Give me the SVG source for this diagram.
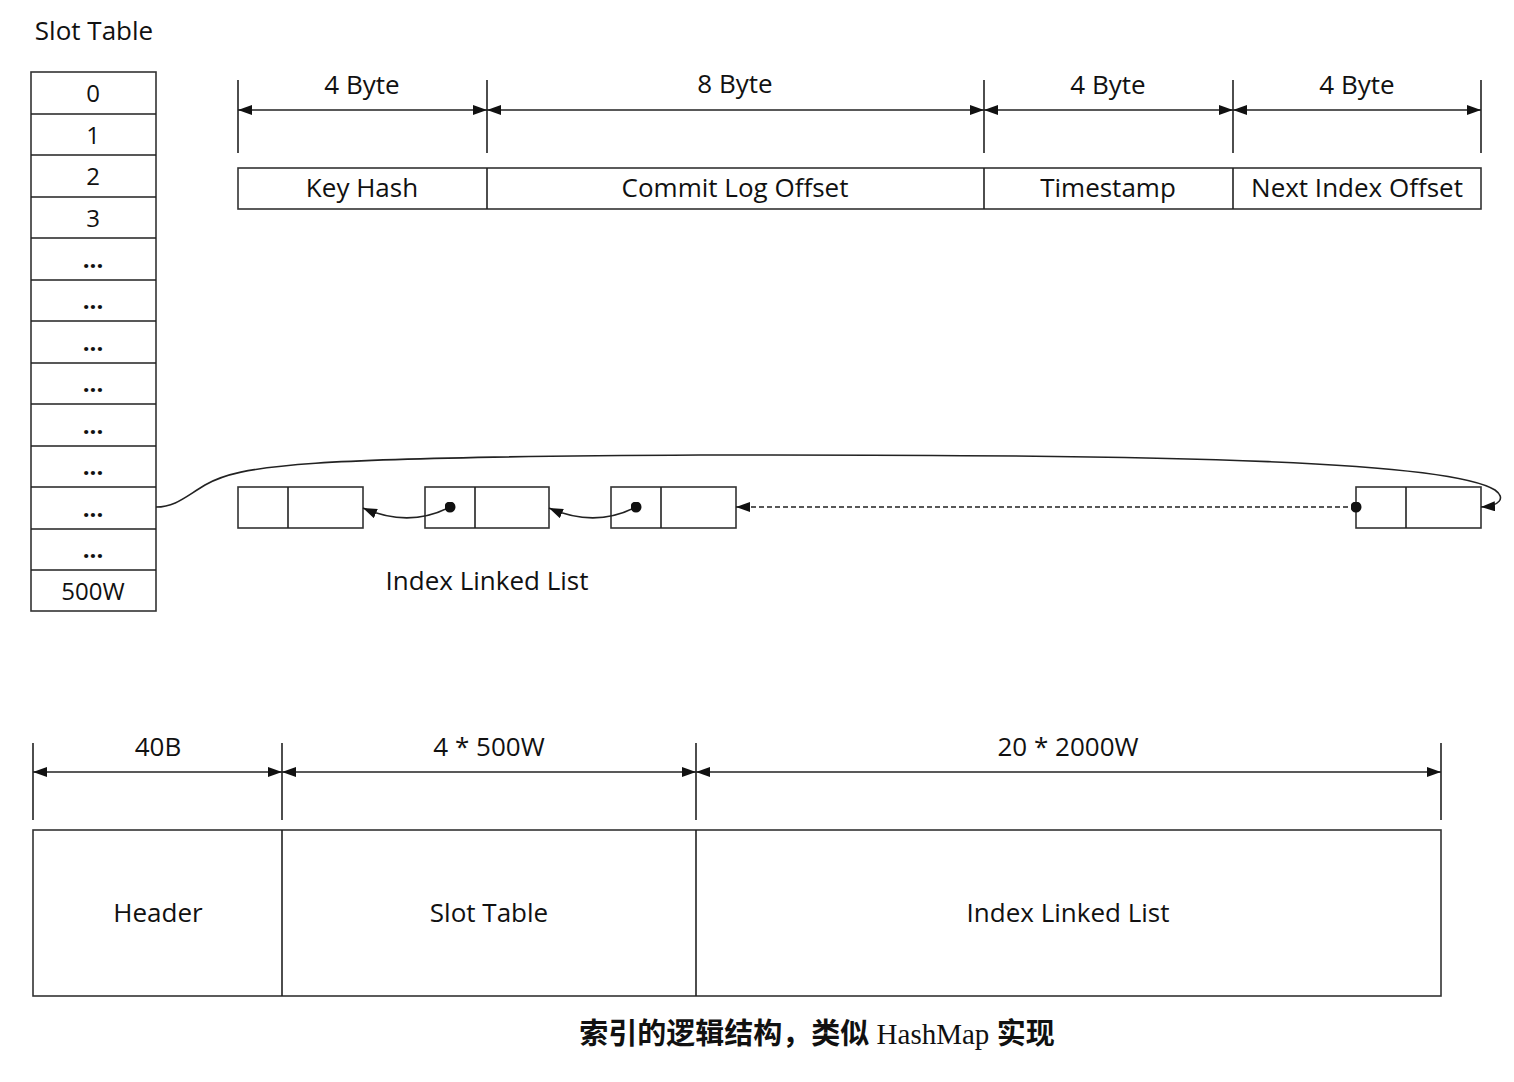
<svg xmlns="http://www.w3.org/2000/svg" width="1514" height="1082" viewBox="0 0 1514 1082">
<style>
.t{font-family:"Open Sans","Noto Sans",sans-serif;font-size:26px;fill:#111;text-anchor:middle}
.s{font-family:"Open Sans","Noto Sans",sans-serif;font-size:24px;fill:#111;text-anchor:middle}
.d{font-weight:bold}
.b{fill:#fff;stroke:#333;stroke-width:1.6}
.l{fill:none;stroke:#222;stroke-width:1.6}
.cap{font-family:"Liberation Serif","Noto Sans CJK SC",serif;font-size:29px;font-weight:600;fill:#111;text-anchor:middle}
</style>
<defs>
<marker id="ah" viewBox="0 0 14 10" refX="14" refY="5" markerWidth="14" markerHeight="10" markerUnits="userSpaceOnUse" orient="auto-start-reverse">
<path d="M0,0 L14,5 L0,10 z" fill="#111"/>
</marker>
<marker id="dot" viewBox="0 0 10 10" refX="5" refY="5" markerWidth="11" markerHeight="11" markerUnits="userSpaceOnUse">
<circle cx="5" cy="5" r="5" fill="#111"/>
</marker>
</defs>
<rect width="1514" height="1082" fill="#fff"/>
<text x="94" y="40" class="t">Slot Table</text>
<g id="slot-table">
<rect x="31" y="72" width="125" height="539" class="b"/>
<path class="l" d="M31,114H156M31,155H156M31,197H156M31,238H156M31,280H156M31,321H156M31,363H156M31,404H156M31,446H156M31,487H156M31,529H156M31,570H156"/>
<text x="93" y="102" class="s">0</text>
<text x="93" y="144" class="s">1</text>
<text x="93" y="185" class="s">2</text>
<text x="93" y="227" class="s">3</text>
<text x="93" y="268" class="s d">...</text>
<text x="93" y="309" class="s d">...</text>
<text x="93" y="351" class="s d">...</text>
<text x="93" y="392" class="s d">...</text>
<text x="93" y="434" class="s d">...</text>
<text x="93" y="475" class="s d">...</text>
<text x="93" y="517" class="s d">...</text>
<text x="93" y="558" class="s d">...</text>
<text x="93" y="600" class="s">500W</text>
</g>
<g id="record">
<rect x="238" y="168" width="1243" height="41" class="b"/>
<path class="l" d="M487,168V209M984,168V209M1233,168V209"/>
<text x="362" y="197" class="t">Key Hash</text>
<text x="735" y="197" class="t">Commit Log Offset</text>
<text x="1108" y="197" class="t">Timestamp</text>
<text x="1357" y="197" class="t">Next Index Offset</text>
</g>
<g id="record-dims">
<path class="l" d="M238,80V153M487,80V153M984,80V153M1233,80V153M1481,80V153"/>
<text x="362" y="94" class="t">4 Byte</text>
<text x="735" y="93" class="t">8 Byte</text>
<text x="1108" y="94" class="t">4 Byte</text>
<text x="1357" y="94" class="t">4 Byte</text>
</g>
<g id="node1"><rect x="238" y="487" width="125" height="41" class="b"/><path class="l" d="M288,487V528"/></g>
<g id="node2"><rect x="425" y="487" width="124" height="41" class="b"/><path class="l" d="M475,487V528"/></g>
<g id="node3"><rect x="611" y="487" width="125" height="41" class="b"/><path class="l" d="M661,487V528"/></g>
<g id="node4"><rect x="1356" y="487" width="125" height="41" class="b"/><path class="l" d="M1406,487V528"/></g>
<text x="487" y="590" class="t">Index Linked List</text>
<g id="connectors">
<path class="l" d="M238,110H487" marker-start="url(#ah)" marker-end="url(#ah)"/>
<path class="l" d="M487,110H984" marker-start="url(#ah)" marker-end="url(#ah)"/>
<path class="l" d="M984,110H1233" marker-start="url(#ah)" marker-end="url(#ah)"/>
<path class="l" d="M1233,110H1481" marker-start="url(#ah)" marker-end="url(#ah)"/>
<path class="l" d="M450,507C425,520 395,522 363,508" marker-start="url(#dot)" marker-end="url(#ah)"/>
<path class="l" d="M636,507C611,520 581,522 549,508" marker-start="url(#dot)" marker-end="url(#ah)"/>
<path class="l" d="M1356,507H736" stroke-dasharray="5,3" marker-start="url(#dot)" marker-end="url(#ah)"/>
<path class="l" d="M156,507C175,507 185,497 205,485C240,465 300,457 700,455C1200,454 1450,462 1495,490C1506,498 1500,506 1481,507" marker-end="url(#ah)"/>
<path class="l" d="M33,772H282" marker-start="url(#ah)" marker-end="url(#ah)"/>
<path class="l" d="M282,772H696" marker-start="url(#ah)" marker-end="url(#ah)"/>
<path class="l" d="M696,772H1441" marker-start="url(#ah)" marker-end="url(#ah)"/>
</g>
<g id="file-dims">
<path class="l" d="M33,743V820M282,743V820M696,743V820M1441,743V820"/>
<text x="158" y="756" class="t">40B</text>
<text x="489" y="756" class="t">4 * 500W</text>
<text x="1068" y="756" class="t">20 * 2000W</text>
</g>
<g id="file-layout">
<rect x="33" y="830" width="1408" height="166" class="b"/>
<path class="l" d="M282,830V996M696,830V996"/>
<text x="158" y="922" class="t">Header</text>
<text x="489" y="922" class="t">Slot Table</text>
<text x="1068" y="922" class="t">Index Linked List</text>
</g>
<text x="817" y="1044" class="cap">索引的逻辑结构，类似 <tspan font-weight="normal">HashMap</tspan> 实现</text>
</svg>
